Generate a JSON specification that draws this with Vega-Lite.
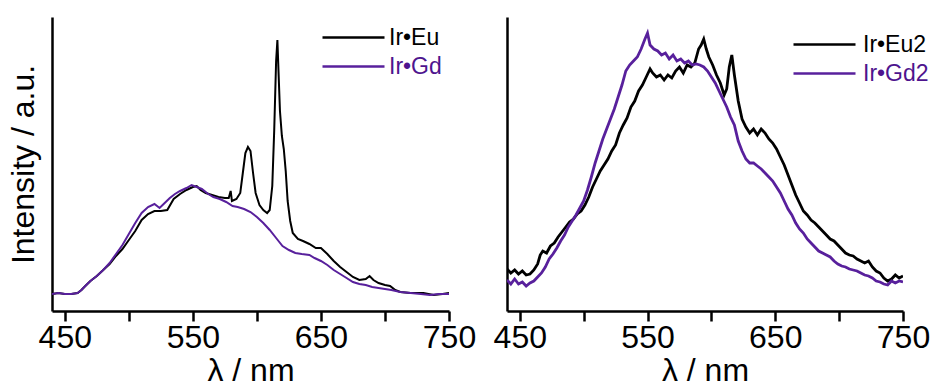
{
  "$schema": "https://vega.github.io/schema/vega-lite/v6.json",
  "padding": {"left": 7, "top": 17, "right": 0, "bottom": 0},
  "bounds": "flush",
  "spacing": 58,
  "config": {
    "view": {"stroke": null},
    "font": "Liberation Sans",
    "axis": {"grid": false, "domainColor": "black", "domainWidth": 2.5, "tickColor": "black", "tickWidth": 2.5, "tickSize": 10, "labelFontSize": 32, "labelColor": "black", "titleFontSize": 32, "titleFontWeight": "normal", "titleColor": "black", "labelPadding": 1, "labelFlush": false, "labelOverlap": false},
    "legend": {"title": null, "orient": "none", "padding": 0, "symbolType": "M-3.1,0H3.1", "symbolSize": 400, "symbolStrokeWidth": 2.5, "labelFontSize": 23, "rowPadding": 5, "labelColor": "black"}
  },
  "datasets": {
    "left": [
      {"s":"Ir•Eu","w":440,"v":17},{"s":"Ir•Eu","w":445,"v":18},{"s":"Ir•Eu","w":450,"v":17},{"s":"Ir•Eu","w":455,"v":17},{"s":"Ir•Eu","w":460,"v":18},{"s":"Ir•Eu","w":463,"v":21},{"s":"Ir•Eu","w":466,"v":25},{"s":"Ir•Eu","w":470,"v":30},{"s":"Ir•Eu","w":475,"v":35},{"s":"Ir•Eu","w":480,"v":41},{"s":"Ir•Eu","w":485,"v":47},{"s":"Ir•Eu","w":490,"v":55},{"s":"Ir•Eu","w":495,"v":62},{"s":"Ir•Eu","w":500,"v":71},{"s":"Ir•Eu","w":505,"v":80},{"s":"Ir•Eu","w":510,"v":91},{"s":"Ir•Eu","w":515,"v":97},{"s":"Ir•Eu","w":520,"v":100},{"s":"Ir•Eu","w":525,"v":100},{"s":"Ir•Eu","w":530,"v":101},{"s":"Ir•Eu","w":535,"v":112},{"s":"Ir•Eu","w":540,"v":117},{"s":"Ir•Eu","w":545,"v":121},{"s":"Ir•Eu","w":550,"v":124},{"s":"Ir•Eu","w":553,"v":125},{"s":"Ir•Eu","w":556,"v":121},{"s":"Ir•Eu","w":560,"v":118},{"s":"Ir•Eu","w":565,"v":116},{"s":"Ir•Eu","w":570,"v":114},{"s":"Ir•Eu","w":575,"v":113},{"s":"Ir•Eu","w":578,"v":113},{"s":"Ir•Eu","w":579.5,"v":120},{"s":"Ir•Eu","w":580.5,"v":110},{"s":"Ir•Eu","w":584,"v":112},{"s":"Ir•Eu","w":587,"v":118},{"s":"Ir•Eu","w":589,"v":138},{"s":"Ir•Eu","w":591,"v":158},{"s":"Ir•Eu","w":593,"v":164},{"s":"Ir•Eu","w":595,"v":160},{"s":"Ir•Eu","w":597,"v":138},{"s":"Ir•Eu","w":599,"v":118},{"s":"Ir•Eu","w":602,"v":106},{"s":"Ir•Eu","w":605,"v":101},{"s":"Ir•Eu","w":608,"v":98},{"s":"Ir•Eu","w":610,"v":101},{"s":"Ir•Eu","w":612,"v":125},{"s":"Ir•Eu","w":613.5,"v":180},{"s":"Ir•Eu","w":615,"v":250},{"s":"Ir•Eu","w":616,"v":271},{"s":"Ir•Eu","w":617,"v":235},{"s":"Ir•Eu","w":618,"v":200},{"s":"Ir•Eu","w":619.5,"v":175},{"s":"Ir•Eu","w":621,"v":162},{"s":"Ir•Eu","w":622.5,"v":140},{"s":"Ir•Eu","w":624,"v":110},{"s":"Ir•Eu","w":626,"v":90},{"s":"Ir•Eu","w":628,"v":78},{"s":"Ir•Eu","w":632,"v":72},{"s":"Ir•Eu","w":636,"v":70},{"s":"Ir•Eu","w":641,"v":67},{"s":"Ir•Eu","w":646,"v":63},{"s":"Ir•Eu","w":650,"v":63},{"s":"Ir•Eu","w":655,"v":57},{"s":"Ir•Eu","w":660,"v":50},{"s":"Ir•Eu","w":665,"v":44},{"s":"Ir•Eu","w":670,"v":39},{"s":"Ir•Eu","w":675,"v":34},{"s":"Ir•Eu","w":680,"v":31},{"s":"Ir•Eu","w":685,"v":32},{"s":"Ir•Eu","w":688,"v":35},{"s":"Ir•Eu","w":691,"v":31},{"s":"Ir•Eu","w":695,"v":28},{"s":"Ir•Eu","w":700,"v":26},{"s":"Ir•Eu","w":704,"v":25},{"s":"Ir•Eu","w":708,"v":21},{"s":"Ir•Eu","w":712,"v":19},{"s":"Ir•Eu","w":720,"v":18},{"s":"Ir•Eu","w":730,"v":18},{"s":"Ir•Eu","w":738,"v":16},{"s":"Ir•Eu","w":745,"v":17},{"s":"Ir•Eu","w":750,"v":18},
      {"s":"Ir•Gd","w":440,"v":17},{"s":"Ir•Gd","w":445,"v":18},{"s":"Ir•Gd","w":450,"v":17},{"s":"Ir•Gd","w":455,"v":17},{"s":"Ir•Gd","w":460,"v":18},{"s":"Ir•Gd","w":463,"v":21},{"s":"Ir•Gd","w":466,"v":25},{"s":"Ir•Gd","w":470,"v":30},{"s":"Ir•Gd","w":475,"v":35},{"s":"Ir•Gd","w":480,"v":41},{"s":"Ir•Gd","w":485,"v":48},{"s":"Ir•Gd","w":490,"v":57},{"s":"Ir•Gd","w":495,"v":66},{"s":"Ir•Gd","w":500,"v":77},{"s":"Ir•Gd","w":505,"v":88},{"s":"Ir•Gd","w":510,"v":98},{"s":"Ir•Gd","w":515,"v":104},{"s":"Ir•Gd","w":520,"v":107},{"s":"Ir•Gd","w":524,"v":103},{"s":"Ir•Gd","w":528,"v":108},{"s":"Ir•Gd","w":532,"v":113},{"s":"Ir•Gd","w":536,"v":117},{"s":"Ir•Gd","w":540,"v":120},{"s":"Ir•Gd","w":545,"v":123},{"s":"Ir•Gd","w":549,"v":126},{"s":"Ir•Gd","w":553,"v":124},{"s":"Ir•Gd","w":557,"v":122},{"s":"Ir•Gd","w":562,"v":117},{"s":"Ir•Gd","w":566,"v":114},{"s":"Ir•Gd","w":571,"v":112},{"s":"Ir•Gd","w":576,"v":109},{"s":"Ir•Gd","w":581,"v":105},{"s":"Ir•Gd","w":585,"v":104},{"s":"Ir•Gd","w":590,"v":102},{"s":"Ir•Gd","w":595,"v":99},{"s":"Ir•Gd","w":600,"v":94},{"s":"Ir•Gd","w":605,"v":88},{"s":"Ir•Gd","w":610,"v":81},{"s":"Ir•Gd","w":615,"v":73},{"s":"Ir•Gd","w":620,"v":65},{"s":"Ir•Gd","w":625,"v":61},{"s":"Ir•Gd","w":630,"v":58},{"s":"Ir•Gd","w":635,"v":57},{"s":"Ir•Gd","w":641,"v":56},{"s":"Ir•Gd","w":645,"v":53},{"s":"Ir•Gd","w":650,"v":50},{"s":"Ir•Gd","w":655,"v":46},{"s":"Ir•Gd","w":660,"v":41},{"s":"Ir•Gd","w":665,"v":37},{"s":"Ir•Gd","w":670,"v":33},{"s":"Ir•Gd","w":675,"v":29},{"s":"Ir•Gd","w":680,"v":27},{"s":"Ir•Gd","w":685,"v":26},{"s":"Ir•Gd","w":690,"v":24},{"s":"Ir•Gd","w":695,"v":23},{"s":"Ir•Gd","w":700,"v":22},{"s":"Ir•Gd","w":705,"v":21},{"s":"Ir•Gd","w":712,"v":19},{"s":"Ir•Gd","w":720,"v":18},{"s":"Ir•Gd","w":728,"v":17},{"s":"Ir•Gd","w":735,"v":16},{"s":"Ir•Gd","w":742,"v":17},{"s":"Ir•Gd","w":750,"v":17}
    ],
    "right": [
      {"s":"Ir•Eu2","w":440,"v":42},{"s":"Ir•Eu2","w":443,"v":38},{"s":"Ir•Eu2","w":446,"v":41},{"s":"Ir•Eu2","w":449,"v":37},{"s":"Ir•Eu2","w":452,"v":40},{"s":"Ir•Eu2","w":455,"v":36},{"s":"Ir•Eu2","w":458,"v":37},{"s":"Ir•Eu2","w":461,"v":41},{"s":"Ir•Eu2","w":464,"v":47},{"s":"Ir•Eu2","w":466,"v":56},{"s":"Ir•Eu2","w":468,"v":60},{"s":"Ir•Eu2","w":471,"v":58},{"s":"Ir•Eu2","w":474,"v":65},{"s":"Ir•Eu2","w":477,"v":68},{"s":"Ir•Eu2","w":480,"v":74},{"s":"Ir•Eu2","w":483,"v":79},{"s":"Ir•Eu2","w":486,"v":84},{"s":"Ir•Eu2","w":489,"v":89},{"s":"Ir•Eu2","w":492,"v":92},{"s":"Ir•Eu2","w":495,"v":97},{"s":"Ir•Eu2","w":498,"v":100},{"s":"Ir•Eu2","w":501,"v":106},{"s":"Ir•Eu2","w":504,"v":114},{"s":"Ir•Eu2","w":507,"v":124},{"s":"Ir•Eu2","w":510,"v":132},{"s":"Ir•Eu2","w":513,"v":140},{"s":"Ir•Eu2","w":516,"v":146},{"s":"Ir•Eu2","w":519,"v":152},{"s":"Ir•Eu2","w":522,"v":160},{"s":"Ir•Eu2","w":525,"v":166},{"s":"Ir•Eu2","w":528,"v":178},{"s":"Ir•Eu2","w":531,"v":186},{"s":"Ir•Eu2","w":534,"v":193},{"s":"Ir•Eu2","w":537,"v":204},{"s":"Ir•Eu2","w":540,"v":210},{"s":"Ir•Eu2","w":543,"v":220},{"s":"Ir•Eu2","w":546,"v":226},{"s":"Ir•Eu2","w":549,"v":234},{"s":"Ir•Eu2","w":552,"v":242},{"s":"Ir•Eu2","w":554,"v":238},{"s":"Ir•Eu2","w":557,"v":234},{"s":"Ir•Eu2","w":560,"v":236},{"s":"Ir•Eu2","w":563,"v":231},{"s":"Ir•Eu2","w":566,"v":236},{"s":"Ir•Eu2","w":569,"v":233},{"s":"Ir•Eu2","w":572,"v":240},{"s":"Ir•Eu2","w":575,"v":244},{"s":"Ir•Eu2","w":578,"v":238},{"s":"Ir•Eu2","w":581,"v":246},{"s":"Ir•Eu2","w":584,"v":244},{"s":"Ir•Eu2","w":587,"v":248},{"s":"Ir•Eu2","w":590,"v":262},{"s":"Ir•Eu2","w":592,"v":266},{"s":"Ir•Eu2","w":594,"v":272},{"s":"Ir•Eu2","w":596,"v":262},{"s":"Ir•Eu2","w":598,"v":254},{"s":"Ir•Eu2","w":601,"v":246},{"s":"Ir•Eu2","w":604,"v":236},{"s":"Ir•Eu2","w":607,"v":228},{"s":"Ir•Eu2","w":610,"v":216},{"s":"Ir•Eu2","w":612,"v":222},{"s":"Ir•Eu2","w":614,"v":244},{"s":"Ir•Eu2","w":616,"v":256},{"s":"Ir•Eu2","w":618,"v":236},{"s":"Ir•Eu2","w":621,"v":210},{"s":"Ir•Eu2","w":624,"v":192},{"s":"Ir•Eu2","w":627,"v":184},{"s":"Ir•Eu2","w":630,"v":178},{"s":"Ir•Eu2","w":633,"v":182},{"s":"Ir•Eu2","w":636,"v":176},{"s":"Ir•Eu2","w":639,"v":182},{"s":"Ir•Eu2","w":642,"v":178},{"s":"Ir•Eu2","w":645,"v":172},{"s":"Ir•Eu2","w":648,"v":168},{"s":"Ir•Eu2","w":651,"v":162},{"s":"Ir•Eu2","w":654,"v":154},{"s":"Ir•Eu2","w":657,"v":146},{"s":"Ir•Eu2","w":660,"v":136},{"s":"Ir•Eu2","w":663,"v":126},{"s":"Ir•Eu2","w":666,"v":116},{"s":"Ir•Eu2","w":669,"v":108},{"s":"Ir•Eu2","w":672,"v":100},{"s":"Ir•Eu2","w":675,"v":96},{"s":"Ir•Eu2","w":678,"v":91},{"s":"Ir•Eu2","w":681,"v":88},{"s":"Ir•Eu2","w":684,"v":84},{"s":"Ir•Eu2","w":687,"v":80},{"s":"Ir•Eu2","w":690,"v":76},{"s":"Ir•Eu2","w":693,"v":72},{"s":"Ir•Eu2","w":696,"v":70},{"s":"Ir•Eu2","w":699,"v":66},{"s":"Ir•Eu2","w":702,"v":62},{"s":"Ir•Eu2","w":705,"v":58},{"s":"Ir•Eu2","w":708,"v":56},{"s":"Ir•Eu2","w":711,"v":55},{"s":"Ir•Eu2","w":714,"v":52},{"s":"Ir•Eu2","w":717,"v":50},{"s":"Ir•Eu2","w":720,"v":48},{"s":"Ir•Eu2","w":723,"v":50},{"s":"Ir•Eu2","w":726,"v":44},{"s":"Ir•Eu2","w":729,"v":40},{"s":"Ir•Eu2","w":732,"v":38},{"s":"Ir•Eu2","w":735,"v":33},{"s":"Ir•Eu2","w":738,"v":30},{"s":"Ir•Eu2","w":741,"v":32},{"s":"Ir•Eu2","w":744,"v":36},{"s":"Ir•Eu2","w":747,"v":33},{"s":"Ir•Eu2","w":750,"v":35},
      {"s":"Ir•Gd2","w":440,"v":31},{"s":"Ir•Gd2","w":443,"v":27},{"s":"Ir•Gd2","w":446,"v":32},{"s":"Ir•Gd2","w":449,"v":27},{"s":"Ir•Gd2","w":452,"v":29},{"s":"Ir•Gd2","w":455,"v":25},{"s":"Ir•Gd2","w":458,"v":28},{"s":"Ir•Gd2","w":461,"v":30},{"s":"Ir•Gd2","w":464,"v":34},{"s":"Ir•Gd2","w":467,"v":38},{"s":"Ir•Gd2","w":470,"v":44},{"s":"Ir•Gd2","w":473,"v":52},{"s":"Ir•Gd2","w":476,"v":57},{"s":"Ir•Gd2","w":479,"v":63},{"s":"Ir•Gd2","w":482,"v":70},{"s":"Ir•Gd2","w":485,"v":76},{"s":"Ir•Gd2","w":488,"v":84},{"s":"Ir•Gd2","w":491,"v":90},{"s":"Ir•Gd2","w":494,"v":96},{"s":"Ir•Gd2","w":497,"v":103},{"s":"Ir•Gd2","w":500,"v":110},{"s":"Ir•Gd2","w":503,"v":121},{"s":"Ir•Gd2","w":506,"v":134},{"s":"Ir•Gd2","w":509,"v":148},{"s":"Ir•Gd2","w":512,"v":160},{"s":"Ir•Gd2","w":515,"v":172},{"s":"Ir•Gd2","w":518,"v":182},{"s":"Ir•Gd2","w":521,"v":192},{"s":"Ir•Gd2","w":524,"v":202},{"s":"Ir•Gd2","w":527,"v":214},{"s":"Ir•Gd2","w":530,"v":226},{"s":"Ir•Gd2","w":533,"v":240},{"s":"Ir•Gd2","w":536,"v":246},{"s":"Ir•Gd2","w":539,"v":250},{"s":"Ir•Gd2","w":542,"v":254},{"s":"Ir•Gd2","w":545,"v":262},{"s":"Ir•Gd2","w":548,"v":272},{"s":"Ir•Gd2","w":550,"v":278},{"s":"Ir•Gd2","w":552,"v":266},{"s":"Ir•Gd2","w":555,"v":262},{"s":"Ir•Gd2","w":558,"v":260},{"s":"Ir•Gd2","w":561,"v":256},{"s":"Ir•Gd2","w":564,"v":258},{"s":"Ir•Gd2","w":567,"v":252},{"s":"Ir•Gd2","w":570,"v":256},{"s":"Ir•Gd2","w":573,"v":250},{"s":"Ir•Gd2","w":576,"v":252},{"s":"Ir•Gd2","w":579,"v":248},{"s":"Ir•Gd2","w":582,"v":250},{"s":"Ir•Gd2","w":585,"v":246},{"s":"Ir•Gd2","w":588,"v":247},{"s":"Ir•Gd2","w":591,"v":246},{"s":"Ir•Gd2","w":594,"v":244},{"s":"Ir•Gd2","w":597,"v":240},{"s":"Ir•Gd2","w":600,"v":234},{"s":"Ir•Gd2","w":603,"v":228},{"s":"Ir•Gd2","w":606,"v":220},{"s":"Ir•Gd2","w":609,"v":212},{"s":"Ir•Gd2","w":612,"v":204},{"s":"Ir•Gd2","w":615,"v":194},{"s":"Ir•Gd2","w":618,"v":186},{"s":"Ir•Gd2","w":621,"v":170},{"s":"Ir•Gd2","w":624,"v":160},{"s":"Ir•Gd2","w":627,"v":152},{"s":"Ir•Gd2","w":630,"v":148},{"s":"Ir•Gd2","w":633,"v":148},{"s":"Ir•Gd2","w":636,"v":145},{"s":"Ir•Gd2","w":639,"v":142},{"s":"Ir•Gd2","w":642,"v":138},{"s":"Ir•Gd2","w":645,"v":134},{"s":"Ir•Gd2","w":648,"v":130},{"s":"Ir•Gd2","w":651,"v":124},{"s":"Ir•Gd2","w":654,"v":118},{"s":"Ir•Gd2","w":657,"v":110},{"s":"Ir•Gd2","w":660,"v":102},{"s":"Ir•Gd2","w":663,"v":96},{"s":"Ir•Gd2","w":666,"v":88},{"s":"Ir•Gd2","w":669,"v":82},{"s":"Ir•Gd2","w":672,"v":78},{"s":"Ir•Gd2","w":675,"v":72},{"s":"Ir•Gd2","w":678,"v":68},{"s":"Ir•Gd2","w":681,"v":64},{"s":"Ir•Gd2","w":684,"v":60},{"s":"Ir•Gd2","w":687,"v":58},{"s":"Ir•Gd2","w":690,"v":56},{"s":"Ir•Gd2","w":693,"v":54},{"s":"Ir•Gd2","w":696,"v":50},{"s":"Ir•Gd2","w":699,"v":47},{"s":"Ir•Gd2","w":702,"v":45},{"s":"Ir•Gd2","w":705,"v":44},{"s":"Ir•Gd2","w":708,"v":42},{"s":"Ir•Gd2","w":711,"v":41},{"s":"Ir•Gd2","w":714,"v":40},{"s":"Ir•Gd2","w":717,"v":38},{"s":"Ir•Gd2","w":720,"v":36},{"s":"Ir•Gd2","w":723,"v":35},{"s":"Ir•Gd2","w":726,"v":33},{"s":"Ir•Gd2","w":729,"v":30},{"s":"Ir•Gd2","w":732,"v":29},{"s":"Ir•Gd2","w":735,"v":27},{"s":"Ir•Gd2","w":738,"v":26},{"s":"Ir•Gd2","w":741,"v":30},{"s":"Ir•Gd2","w":744,"v":28},{"s":"Ir•Gd2","w":747,"v":30},{"s":"Ir•Gd2","w":750,"v":29}
    ]
  },
  "hconcat": [
    {
      "width": 397,
      "height": 294,
      "data": {"name": "left"},
      "mark": {"type": "line", "strokeWidth": 2, "clip": true},
      "encoding": {
        "x": {"field": "w", "type": "quantitative", "scale": {"domain": [440, 750], "nice": false, "zero": false},
              "axis": {"values": [450, 500, 550, 600, 650, 700, 750], "labelExpr": "datum.value % 100 == 50 ? datum.label : ''", "title": "λ / nm", "titlePadding": 2}},
        "y": {"field": "v", "type": "quantitative", "scale": {"domain": [0, 294], "nice": false},
              "axis": {"ticks": false, "labels": false, "title": "Intensity / a.u.", "titlePadding": 12}},
        "color": {"field": "s", "type": "nominal", "scale": {"domain": ["Ir•Eu", "Ir•Gd"], "range": ["black", "#58209c"]},
                  "legend": {"legendX": 290, "legendY": 9, "labelOffset": 24, "encode": {"labels": {"update": {"fill": {"signal": "datum.label === 'Ir•Gd' ? '#4e148e' : 'black'"}}}}}}
      }
    },
    {
      "width": 396,
      "height": 294,
      "data": {"name": "right"},
      "mark": {"type": "line", "strokeWidth": 2.8, "clip": true},
      "encoding": {
        "x": {"field": "w", "type": "quantitative", "scale": {"domain": [440, 750], "nice": false, "zero": false},
              "axis": {"values": [450, 500, 550, 600, 650, 700, 750], "labelExpr": "datum.value % 100 == 50 ? datum.label : ''", "title": "λ / nm", "titlePadding": 2}},
        "y": {"field": "v", "type": "quantitative", "scale": {"domain": [0, 294], "nice": false},
              "axis": {"ticks": false, "labels": false, "title": null}},
        "color": {"field": "s", "type": "nominal", "scale": {"domain": ["Ir•Eu2", "Ir•Gd2"], "range": ["black", "#58209c"]},
                  "legend": {"legendX": 306, "legendY": 16, "labelOffset": 27, "encode": {"labels": {"update": {"fill": {"signal": "datum.label === 'Ir•Gd2' ? '#4e148e' : 'black'"}}}}}}
      }
    }
  ],
  "resolve": {"scale": {"color": "independent", "x": "independent", "y": "independent"}, "legend": {"color": "independent"}}
}
